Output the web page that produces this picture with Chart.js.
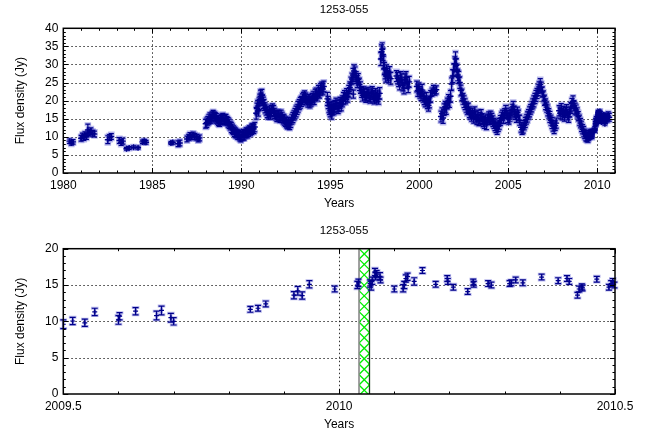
<!DOCTYPE html>
<html><head><meta charset="utf-8">
<script src="https://cdn.jsdelivr.net/npm/chart.js@4.4.1/dist/chart.umd.min.js"></script>
<style>
html,body{margin:0;padding:0;background:#fff;width:653px;height:434px;overflow:hidden}
canvas{position:absolute;left:0}
#c1{top:0}#c2{top:217px}
</style></head><body>
<canvas id="c1" width="653" height="217"></canvas>
<canvas id="c2" width="653" height="217"></canvas>
<script>
// ---------- DATA ----------
const sourceName = '1253-055';
const xTitle = 'Years';
const yTitle = 'Flux density (Jy)';

// Long-term light curve (top panel), years / flux (Jy) / error (Jy)
const topYears = [
1980.35,1980.45,1980.55,1981.00,1981.08,1981.15,1981.22,1981.30,1981.38,1981.45,
1981.55,1981.65,1981.75,1982.50,1982.60,1982.70,1983.15,1983.25,1983.35,1983.55,
1983.70,1983.95,1984.20,1984.45,1984.55,1984.65,1986.05,1986.15,1986.45,1986.55,
1986.95,1987.05,1987.12,1987.20,1987.30,1987.38,1987.50,1987.58,1987.66,
1988.00,1988.06,1988.12,1988.18,1988.24,1988.30,1988.36,1988.42,1988.48,1988.54,
1988.60,1988.66,1988.72,1988.78,1988.84,1988.90,1988.96,1989.02,1989.08,1989.14,
1989.20,1989.26,1989.32,1989.38,1989.44,1989.50,1989.56,1989.62,1989.68,1989.74,
1989.80,1989.86,1989.92,1989.98,1990.04,1990.10,1990.16,1990.22,1990.28,1990.34,
1990.40,1990.46,1990.52,1990.58,1990.64,1990.70,1990.76,1990.84,1990.88,1990.92,
1990.96,1991.00,1991.04,1991.08,1991.12,1991.16,1991.20,1991.24,1991.28,1991.34,
1991.40,1991.46,1991.52,1991.58,1991.64,1991.70,1991.76,1991.82,1991.88,1991.94,
1992.00,1992.06,1992.12,1992.18,1992.24,1992.30,1992.36,1992.42,1992.48,1992.54,
1992.60,1992.66,1992.72,1992.78,1992.84,1992.90,1992.96,1993.02,1993.08,1993.14,
1993.20,1993.26,1993.32,1993.38,1993.44,1993.50,1993.56,1993.62,1993.68,1993.74,
1993.80,1993.86,1993.92,1993.98,1994.04,1994.10,1994.16,1994.22,1994.28,1994.34,
1994.40,1994.46,1994.52,1994.58,1994.64,1994.84,1994.88,1994.92,1994.96,1995.00,
1995.04,1995.08,1995.12,1995.16,1995.20,1995.26,1995.32,1995.38,1995.44,1995.50,
1995.56,1995.62,1995.68,1995.74,1995.80,1995.86,1995.92,1995.98,1996.04,1996.10,
1996.16,1996.22,1996.28,1996.30,1996.34,1996.40,1996.46,1996.52,1996.58,1996.64,
1996.70,1996.76,1996.82,1996.88,1996.94,1997.00,1997.06,1997.12,1997.18,1997.24,
1997.30,1997.36,1997.42,1997.48,1997.54,1997.60,1997.66,1997.72,1997.78,1997.84,
1997.88,1997.92,1997.96,1998.00,1998.04,1998.08,1998.12,1998.16,1998.22,1998.28,
1998.34,1998.40,1998.72,1998.78,1998.84,1998.90,1998.96,1999.02,1999.08,1999.14,
1999.20,1999.26,1999.32,1999.38,1999.44,1999.86,1999.92,1999.98,2000.04,2000.10,
2000.16,2000.22,2000.28,2000.34,2000.40,2000.46,2000.52,2000.58,2000.64,2000.72,
2000.80,2000.88,2000.96,2001.22,2001.28,2001.34,2001.40,2001.46,2001.52,2001.58,
2001.64,2001.70,2001.76,2001.82,2001.88,2001.94,2002.00,2002.04,2002.08,2002.12,
2002.16,2002.22,2002.28,2002.34,2002.40,2002.46,2002.52,2002.58,2002.64,2002.70,
2002.76,2002.82,2002.88,2002.94,2003.00,2003.06,2003.12,2003.18,2003.24,2003.30,
2003.36,2003.42,2003.48,2003.54,2003.60,2003.66,2003.72,2003.78,2003.84,2003.90,
2003.96,2004.02,2004.08,2004.14,2004.20,2004.26,2004.32,2004.38,2004.44,2004.50,
2004.56,2004.62,2004.68,2004.74,2004.80,2004.86,2004.92,2004.98,2005.04,2005.10,
2005.16,2005.22,2005.28,2005.34,2005.40,2005.46,2005.52,2005.58,2005.64,2005.72,
2005.78,2005.84,2005.90,2005.96,2006.02,2006.08,2006.14,2006.20,2006.26,2006.32,
2006.38,2006.44,2006.50,2006.56,2006.62,2006.68,2006.74,2006.80,2006.86,2006.92,
2006.98,2007.04,2007.10,2007.16,2007.22,2007.28,2007.34,2007.40,2007.46,2007.52,
2007.58,2007.64,2007.70,2007.86,2007.92,2007.98,2008.04,2008.10,2008.16,2008.22,
2008.28,2008.34,2008.40,2008.46,2008.52,2008.58,2008.64,2008.70,2008.76,2008.82,
2008.88,2008.94,2009.00,2009.06,2009.12,2009.18,2009.24,2009.30,2009.36,2009.42,
2009.48,2010.56,2010.62,2010.68
];
const topFlux = [
8.8,8.3,8.6,9.6,10.2,9.8,10.6,10.1,11.9,11.2,
11.6,11.0,10.8,9.2,9.8,10.1,9.0,8.4,8.8,6.7,
6.9,7.1,7.0,8.6,8.8,8.5,8.3,8.4,8.1,8.3,
9.4,9.9,10.4,10.0,10.5,10.1,9.9,9.4,9.7,
13.6,13.9,14.4,14.8,15.2,15.0,15.6,15.9,15.7,15.4,
15.1,14.7,14.5,14.2,14.6,14.9,15.1,14.8,14.6,14.9,
14.4,14.0,13.6,13.1,12.6,12.2,11.8,11.4,11.1,10.9,
10.6,10.5,10.2,9.9,10.3,10.6,10.4,10.9,11.2,11.0,
11.4,11.8,11.6,12.1,12.4,12.2,12.7,16.5,17.8,18.5,
17.2,19.2,20.3,21.2,20.6,21.5,20.1,19.4,18.8,18.0,
17.4,16.8,16.2,16.9,16.4,17.3,17.8,17.1,16.5,16.0,
15.6,16.1,15.8,15.3,15.9,15.4,14.9,14.6,14.2,13.9,
13.5,13.8,13.3,14.0,14.8,15.3,15.9,16.4,17.0,17.6,
18.3,18.9,19.4,19.8,20.4,20.9,21.1,20.6,20.2,19.7,
20.3,19.5,19.9,20.5,21.0,20.4,21.6,22.0,21.3,22.6,
22.2,23.1,23.6,23.2,23.9,20.5,19.5,18.6,17.8,17.2,
18.0,16.6,17.5,18.2,17.6,18.4,19.2,18.5,17.9,18.6,
19.4,18.8,19.8,20.6,21.3,20.7,21.8,21.2,22.5,23.6,
24.8,26.0,27.1,21.8,28.2,27.5,26.4,25.3,25.9,24.5,
23.6,22.4,21.5,22.3,21.8,21.0,21.6,22.2,21.4,20.8,
21.9,22.4,21.2,20.6,21.7,20.9,21.3,20.5,22.0,31.5,
33.5,34.2,32.8,30.5,28.9,27.6,26.8,28.3,27.2,26.5,
27.8,26.1,26.8,26.2,25.4,24.6,26.5,25.8,24.2,23.5,
25.9,26.4,24.9,23.8,25.2,23.9,22.8,23.4,22.3,21.6,
22.9,21.1,20.5,19.8,20.6,19.3,18.7,19.5,21.2,22.4,
23.1,22.6,23.0,15.6,16.4,15.2,17.5,18.3,17.8,19.2,
20.1,19.6,21.2,24.6,26.8,28.5,30.2,31.5,29.8,28.4,
27.1,26.4,25.0,22.8,21.6,20.5,19.7,19.0,18.2,17.6,
17.9,16.8,16.3,15.8,16.5,15.3,16.9,15.6,14.8,15.9,
14.5,15.2,16.1,14.9,14.2,13.8,14.6,13.5,14.9,15.4,
14.8,15.6,15.1,14.3,13.7,13.2,12.6,12.2,12.9,13.6,
14.5,15.3,16.0,15.2,16.4,17.2,16.5,15.4,14.9,15.8,
16.6,17.5,18.4,17.0,16.2,15.5,16.8,15.9,14.6,12.6,
12.0,12.4,13.2,14.0,14.8,15.5,16.2,16.9,17.6,18.3,
19.1,19.8,20.6,21.3,22.0,22.9,23.8,24.5,23.6,22.4,
21.2,20.1,19.0,18.2,17.3,16.4,15.5,14.6,13.8,13.0,
12.3,13.1,13.8,17.2,16.5,17.8,16.2,17.0,15.8,16.7,
17.4,16.1,15.5,16.9,18.0,19.2,19.8,18.6,17.8,17.4,
16.6,15.7,14.6,13.8,12.9,12.1,11.4,10.8,10.3,10.0,
9.8,15.2,15.8,15.4
];
const topErr = [
0.6,0.6,0.6,0.8,0.8,0.8,0.8,0.8,1.6,0.9,
0.9,0.8,0.8,1.1,0.8,0.8,0.8,0.8,0.8,0.4,
0.4,0.4,0.4,0.5,0.5,0.5,0.4,0.4,0.8,0.8,
0.8,0.8,0.8,0.8,0.8,0.8,0.8,0.8,0.8,
1.2,1.3,1.2,1.3,1.4,1.2,1.3,1.4,1.2,1.3,
1.3,1.2,1.4,1.3,1.2,1.3,1.4,1.2,1.3,1.3,
1.2,1.3,1.3,1.2,1.4,1.3,1.2,1.3,1.3,1.2,
1.3,1.2,1.3,1.3,1.2,1.4,1.3,1.2,1.3,1.3,
1.3,1.2,1.3,1.4,1.2,1.3,1.3,1.6,1.5,1.6,
1.5,1.6,1.5,1.7,1.5,1.6,1.5,1.6,1.5,1.4,
1.4,1.5,1.3,1.4,1.5,1.4,1.3,1.5,1.4,1.3,
1.4,1.3,1.4,1.3,1.5,1.4,1.3,1.4,1.3,1.4,
1.3,1.4,1.3,1.4,1.3,1.4,1.3,1.4,1.5,1.4,
1.5,1.4,1.5,1.4,1.5,1.4,1.6,1.5,1.4,1.5,
1.4,1.5,1.4,1.5,1.6,1.5,1.6,1.5,1.4,1.6,
1.5,1.6,1.5,1.6,1.5,1.8,1.7,1.8,1.6,1.7,
1.6,1.7,1.5,1.6,1.5,1.6,1.5,1.6,1.5,1.6,
1.5,1.6,1.5,1.6,1.5,1.6,1.5,1.6,1.7,1.6,
1.7,1.6,1.8,1.1,1.7,1.8,1.6,1.7,1.6,1.7,
1.6,1.5,1.6,1.5,1.6,1.5,1.6,1.5,1.6,1.5,
1.6,1.5,1.6,1.5,1.6,1.5,1.6,1.5,1.6,1.8,
1.9,1.8,1.7,1.8,1.7,1.6,1.7,1.6,1.7,1.6,
1.6,1.7,1.5,1.6,1.5,1.6,1.5,1.6,1.5,1.6,
1.5,1.6,1.5,1.6,1.5,1.5,1.6,1.5,1.6,1.5,
1.6,1.5,1.6,1.5,1.6,1.5,1.6,1.5,1.6,1.1,
1.1,1.1,1.1,1.5,1.6,1.5,1.6,1.5,1.6,1.5,
1.6,1.5,1.6,1.7,1.8,1.7,1.9,2.0,1.8,1.7,
1.6,1.7,1.6,1.5,1.6,1.5,1.6,1.5,1.4,1.5,
1.4,1.5,1.4,1.5,1.4,1.5,1.4,1.5,1.4,1.5,
1.4,1.5,1.4,1.5,1.4,1.5,1.4,1.5,1.4,1.5,
1.4,1.5,1.4,1.5,1.4,1.5,1.4,1.5,1.4,1.5,
1.4,1.5,1.4,1.5,1.4,1.5,1.4,1.5,1.4,1.5,
1.4,1.5,1.4,1.5,1.4,1.5,1.4,1.5,1.4,1.3,
1.3,1.4,1.3,1.4,1.3,1.4,1.3,1.4,1.3,1.4,
1.4,1.5,1.4,1.5,1.4,1.5,1.4,1.6,1.5,1.4,
1.5,1.4,1.5,1.4,1.5,1.4,1.5,1.4,1.5,1.4,
1.4,1.3,1.4,1.4,1.5,1.4,1.5,1.4,1.5,1.4,
1.5,1.4,1.5,1.4,1.5,1.4,1.5,1.4,1.5,1.4,
1.4,1.3,1.4,1.3,1.4,1.3,1.4,1.3,1.4,1.3,
1.3,1.1,1.1,1.1
];

// Zoomed panel 2009.5 - 2010.5 (bottom), also shown in the top panel
const zoomYears = [
2009.500,2009.517,2009.539,2009.557,2009.600,2009.602,2009.631,2009.669,2009.678,2009.695,
2009.700,2009.839,2009.853,2009.867,2009.918,2009.925,2009.933,2009.946,2009.992,2010.033,
2010.035,2010.056,2010.058,2010.060,2010.065,2010.066,2010.068,2010.074,2010.075,2010.100,
2010.116,2010.118,2010.121,2010.124,2010.136,2010.151,2010.175,2010.196,2010.197,2010.207,
2010.233,2010.243,2010.244,2010.270,2010.276,2010.309,2010.312,2010.320,2010.333,2010.367,
2010.397,2010.413,2010.417,2010.432,2010.435,2010.440,2010.441,2010.467,2010.489,2010.493,
2010.496,2010.499
];
const zoomFlux = [
9.6,10.05,9.8,11.3,10.2,10.7,11.4,10.8,11.5,10.5,
10.0,11.65,11.8,12.4,13.6,14.2,13.55,15.1,14.45,15.0,
15.3,15.2,14.9,15.6,16.8,16.2,16.5,16.2,15.7,14.45,
14.55,15.0,15.9,16.15,15.5,17.0,15.1,15.9,15.5,14.7,
14.1,15.4,15.1,15.2,15.0,15.2,15.3,15.7,15.3,16.1,
15.6,15.9,15.5,13.6,14.45,14.75,14.6,15.8,14.7,15.2,
15.5,15.0
];
const zoomErr = [
0.6,0.5,0.5,0.5,0.6,0.5,0.5,0.6,0.6,0.6,
0.5,0.4,0.4,0.4,0.5,0.6,0.5,0.5,0.4,0.5,
0.5,0.5,0.6,0.5,0.5,0.5,0.5,0.5,0.4,0.4,
0.5,0.5,0.5,0.5,0.5,0.4,0.4,0.4,0.4,0.4,
0.4,0.4,0.4,0.4,0.4,0.4,0.4,0.4,0.4,0.4,
0.4,0.4,0.4,0.4,0.4,0.4,0.4,0.4,0.4,0.4,
0.4,0.4
];

// Highlighted interval in the zoomed panel (years)
const bandRange = [2010.036, 2010.055];

// Axis ticks
const topXTicks = [1980, 1985, 1990, 1995, 2000, 2005, 2010];
const topXLabels = ['1980', '1985', '1990', '1995', '2000', '2005', '2010'];
const topYTicks = [0, 5, 10, 15, 20, 25, 30, 35, 40];
const topYLabels = ['0', '5', '10', '15', '20', '25', '30', '35', '40'];
const botXTicks = [2009.5, 2010, 2010.5];
const botXLabels = ['2009.5', '2010', '2010.5'];
const botYTicks = [0, 5, 10, 15, 20];
const botYLabels = ['0', '5', '10', '15', '20'];

// ---------- RENDERING ----------
const FONT = '"Liberation Sans", Arial, Helvetica, sans-serif';
const NAVY = '#00008b';

function pts(xs, ys, es) { return xs.map((x, i) => ({ x: x, y: ys[i], e: es[i] })); }

function framePlugin(cfg) {
  function seg(ctx, x1, y1, x2, y2) { ctx.beginPath(); ctx.moveTo(x1, y1); ctx.lineTo(x2, y2); ctx.stroke(); }
  function bars(chart, color, width, cap) {
    const { ctx, scales: { x, y } } = chart;
    const data = chart.data.datasets[0].data;
    ctx.strokeStyle = color; ctx.lineWidth = width;
    data.forEach(p => {
      if (p.y == null) return;
      const px = x.getPixelForValue(p.x);
      const y1 = y.getPixelForValue(p.y - p.e), y2 = y.getPixelForValue(p.y + p.e);
      ctx.beginPath();
      ctx.moveTo(px, y1); ctx.lineTo(px, y2);
      ctx.moveTo(px - cap, y1); ctx.lineTo(px + cap, y1);
      ctx.moveTo(px - cap, y2); ctx.lineTo(px + cap, y2);
      ctx.stroke();
    });
  }
  return {
    id: 'frame',
    beforeDatasetsDraw(chart) {
      const { ctx, chartArea: a, scales: { x, y } } = chart;
      ctx.save();
      ctx.strokeStyle = 'rgba(0,0,0,0.8)'; ctx.lineWidth = 1; ctx.setLineDash([1.5, 2.5]);
      cfg.xTicks.forEach(v => {
        const px = Math.round(x.getPixelForValue(v)) + 0.5;
        if (px < a.left + 2 || px > a.right - 2) return;
        seg(ctx, px, a.top, px, a.bottom);
      });
      cfg.yTicks.forEach(v => {
        const py = Math.round(y.getPixelForValue(v)) + 0.5;
        if (py < a.top + 2 || py > a.bottom - 2) return;
        seg(ctx, a.left, py, a.right, py);
      });
      ctx.setLineDash([]);
      if (cfg.band) {
        const bx1 = x.getPixelForValue(cfg.band[0]), bx2 = x.getPixelForValue(cfg.band[1]);
        const w = bx2 - bx1;
        ctx.save();
        ctx.beginPath(); ctx.rect(bx1, a.top, w, a.bottom - a.top); ctx.clip();
        ctx.strokeStyle = '#00ee00'; ctx.lineWidth = 1.3;
        for (let yy = a.top - w; yy < a.bottom + w; yy += w) {
          seg(ctx, bx1, yy, bx2, yy + w);
          seg(ctx, bx1, yy + w, bx2, yy);
        }
        ctx.restore();
        ctx.strokeStyle = '#888'; ctx.lineWidth = 1.6; seg(ctx, bx1, a.top, bx1, a.bottom);
        ctx.strokeStyle = '#1a3a1a'; ctx.lineWidth = 1.3; seg(ctx, bx2, a.top, bx2, a.bottom);
      }
      ctx.beginPath(); ctx.rect(a.left - 4, a.top, a.right - a.left + 8, a.bottom - a.top); ctx.clip();
      bars(chart, 'rgba(60,60,200,0.35)', cfg.halo, cfg.cap + 0.8);
      ctx.restore();
    },
    afterDatasetsDraw(chart) {
      const { ctx, chartArea: a, scales: { x, y } } = chart;
      ctx.save();
      ctx.beginPath(); ctx.rect(a.left - 4, a.top, a.right - a.left + 8, a.bottom - a.top); ctx.clip();
      bars(chart, NAVY, 1.2, cfg.cap);
      ctx.restore();
      ctx.save();
      ctx.strokeStyle = '#000'; ctx.lineWidth = 1;
      const major = 5, minor = 2.5;
      const eps = 1e-6;
      const isMajor = (arr, v) => arr.some(t => Math.abs(t - v) < eps);
      for (let v = cfg.xMin; v <= cfg.xMax + eps; v = +(v + cfg.xMinor).toFixed(6)) {
        const px = Math.round(x.getPixelForValue(v)) + 0.5;
        const len = isMajor(cfg.xTicks, v) ? major : minor;
        seg(ctx, px, a.bottom, px, a.bottom - len);
        seg(ctx, px, a.top, px, a.top + len);
      }
      for (let v = cfg.yMin; v <= cfg.yMax + eps; v = +(v + cfg.yMinor).toFixed(6)) {
        const py = Math.round(y.getPixelForValue(v)) + 0.5;
        const len = isMajor(cfg.yTicks, v) ? major : minor;
        seg(ctx, a.left, py, a.left + len, py);
        seg(ctx, a.right, py, a.right - len, py);
      }
      ctx.lineWidth = 1.5; ctx.strokeStyle = '#000';
      ctx.strokeRect(a.left, a.top, a.right - a.left, a.bottom - a.top);
      ctx.fillStyle = '#000'; ctx.font = '11.5px ' + FONT; ctx.textAlign = 'center'; ctx.textBaseline = 'middle';
      ctx.fillText(sourceName, 344, cfg.titleY);
      ctx.restore();
    }
  };
}

function makeChart(id, cfg) {
  return new Chart(document.getElementById(id), {
    type: 'scatter',
    data: { datasets: [{ data: cfg.points, pointStyle: 'cross', pointRadius: cfg.r, pointHoverRadius: cfg.r,
      pointBorderWidth: cfg.pw, borderColor: NAVY, backgroundColor: NAVY }] },
    options: {
      responsive: false, animation: false, events: [],
      layout: { padding: { left: 0, right: 38, top: cfg.padTop, bottom: 0 } },
      plugins: { legend: { display: false }, tooltip: { enabled: false }, title: { display: false } },
      scales: {
        x: {
          type: 'linear', position: 'bottom', min: cfg.xMin, max: cfg.xMax, bounds: 'data',
          grid: { display: false, drawTicks: false, tickLength: 0 }, border: { display: false },
          afterBuildTicks: s => { s.ticks = cfg.xTicks.map(v => ({ value: v })); },
          afterFit: s => { s.height = cfg.xAxisH; },
          ticks: { color: '#000', font: { family: FONT, size: 12 }, padding: cfg.xTickPad, maxRotation: 0, autoSkip: false,
            callback: (v, i) => cfg.xLabels[i] },
          title: { display: true, text: xTitle, color: '#000', font: { family: FONT, size: 12 },
            padding: { top: 0, bottom: cfg.xTitlePad } }
        },
        y: {
          type: 'linear', position: 'left', min: cfg.yMin, max: cfg.yMax, bounds: 'data',
          grid: { display: false, drawTicks: false, tickLength: 0 }, border: { display: false },
          afterBuildTicks: s => { s.ticks = cfg.yTicks.map(v => ({ value: v })); },
          afterFit: s => { s.width = 63.3; },
          ticks: { color: '#000', font: { family: FONT, size: 12 }, padding: 5, autoSkip: false,
            callback: (v, i) => cfg.yLabels[i] },
          title: { display: true, text: yTitle, color: '#000', font: { family: FONT, size: 12 },
            padding: { top: 13.8, bottom: 0 } }
        }
      }
    },
    plugins: [framePlugin(cfg)]
  });
}

makeChart('c1', {
  points: pts(topYears.concat(zoomYears), topFlux.concat(zoomFlux), topErr.concat(zoomErr)),
  r: 3, pw: 1.4, cap: 2.5, halo: 4,
  xMin: 1980, xMax: 2011, xMinor: 1, xTicks: topXTicks, xLabels: topXLabels,
  yMin: 0, yMax: 40, yMinor: 1, yTicks: topYTicks, yLabels: topYLabels,
  padTop: 28.3, xAxisH: 44, xTickPad: 5, xTitlePad: 6.5, titleY: 9.5
});

makeChart('c2', {
  points: pts(zoomYears, zoomFlux, zoomErr),
  r: 2.5, pw: 1.2, cap: 3, halo: 3,
  xMin: 2009.5, xMax: 2010.5, xMinor: 0.1, xTicks: botXTicks, xLabels: botXLabels,
  yMin: 0, yMax: 20, yMinor: 1, yTicks: botYTicks, yLabels: botYLabels,
  padTop: 31.7, xAxisH: 40, xTickPad: 5.5, xTitlePad: 2.3, titleY: 14, band: bandRange
});
</script>
</body></html>
